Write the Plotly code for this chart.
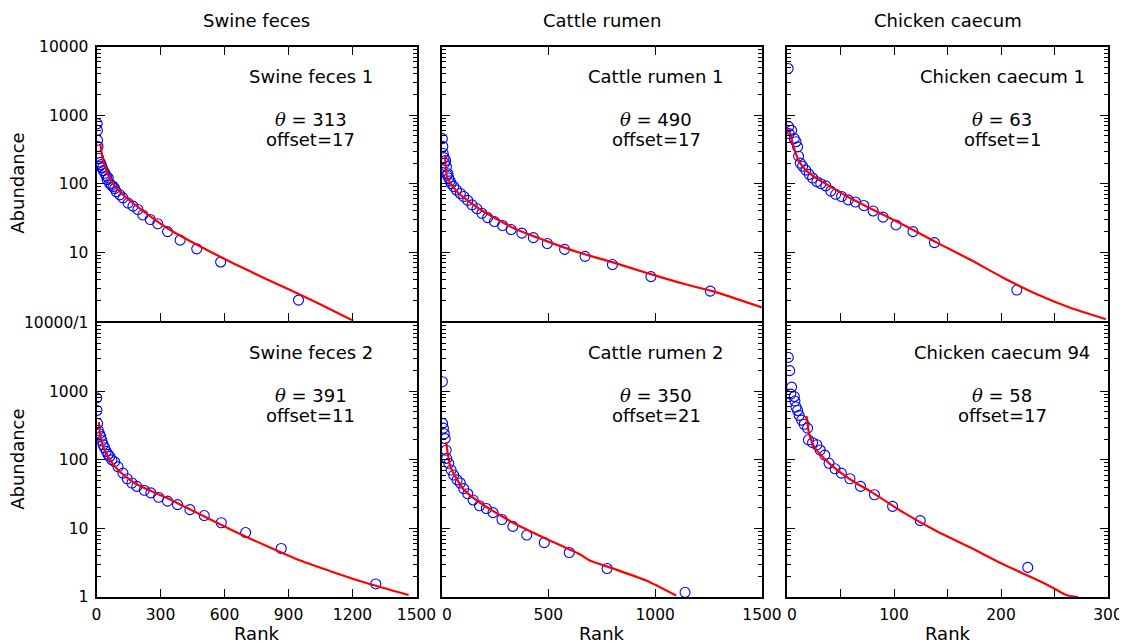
import plotly.graph_objects as go

# ---------------- data ----------------
col_titles = ["Swine feces", "Cattle rumen", "Chicken caecum"]
panel_names = ["Swine feces 1", "Cattle rumen 1", "Chicken caecum 1",
               "Swine feces 2", "Cattle rumen 2", "Chicken caecum 94"]
thetas = [313, 490, 63, 391, 350, 58]
offsets = [17, 17, 1, 11, 21, 17]

# Swine feces 1
sf1_rank = [3, 4, 5, 7, 10, 14, 18, 22, 27, 32, 39, 46, 50, 55, 62, 70, 78, 85, 93, 109, 124, 148, 171, 194, 217, 252, 287, 333, 392, 470, 582, 947]
sf1_abund = [750, 600, 430, 350, 235, 180, 205, 190, 170, 155, 142, 130, 115, 121, 100, 95, 91, 85, 76, 69, 62, 52, 47, 42, 35, 30, 26, 20, 15, 11.2, 7.2, 2.0]
sf1_fit_rank = [18, 28, 46, 77, 124, 210, 333, 489, 645, 800, 955, 1100, 1203]
sf1_fit_abund = [385, 245, 158, 100, 69, 42, 22.4, 12.0, 6.8, 4.0, 2.4, 1.45, 1.0]

# Cattle rumen 1
cr1_rank = [4, 6, 8, 12, 15, 19, 23, 26, 30, 34, 40, 45, 57, 70, 88, 104, 123, 143, 166, 189, 216, 248, 286, 326, 376, 430, 495, 576, 672, 800, 980, 1258]
cr1_abund = [455, 350, 276, 240, 200, 218, 178, 134, 140, 121, 110, 100, 91, 81, 72, 65, 57, 49, 43, 37, 32, 28, 24.5, 21.4, 19, 16.3, 13.4, 11, 8.7, 6.6, 4.4, 2.7]
cr1_fit_rank = [17, 26, 73, 182, 337, 492, 647, 803, 958, 1113, 1191, 1268, 1500]
cr1_fit_abund = [260, 126, 76, 42, 22.5, 14.5, 9.8, 7.1, 5.0, 3.6, 3.1, 2.7, 1.56]

# Chicken caecum 1
cc1_rank = [1, 1.5, 2, 4.3, 6.8, 8.4, 9.9, 10.8, 12.4, 14.6, 17.6, 20.7, 23.9, 27.9, 31.6, 36.2, 40.9, 45.5, 51, 57.3, 64, 71.8, 80.5, 89.8, 101.9, 117.7, 137.8, 214.8]
cc1_abund = [4800, 680, 540, 600, 455, 410, 345, 252, 200, 180, 158, 137, 121, 107, 100, 93, 78, 70, 65, 58, 54, 48, 40, 32.5, 25, 20, 13.8, 2.8]
cc1_fit_rank = [2, 5.3, 9.9, 16, 25.4, 37.8, 56.4, 78, 109, 140, 171, 202, 233, 264, 298]
cc1_fit_abund = [630, 390, 235, 167, 126, 96, 65, 43.6, 25, 13.8, 7.8, 4.25, 2.45, 1.56, 1.05]

# Swine feces 2
sf2_rank = [1, 2, 5, 8, 14, 20, 25, 31, 38, 46, 54, 62, 72, 85, 101, 124, 144, 166, 189, 224, 255, 291, 333, 380, 438, 505, 585, 699, 866, 1309]
sf2_abund = [800, 525, 340, 270, 240, 218, 190, 166, 150, 133, 120, 112, 100, 94, 79, 64, 53, 46, 41, 36, 33, 28.5, 25, 22.2, 18.8, 15.4, 12.1, 8.7, 5.1, 1.55]
sf2_fit_rank = [11, 21, 54, 101, 178, 333, 489, 645, 800, 955, 1110, 1265, 1463]
sf2_fit_abund = [355, 195, 112, 71, 46, 27.5, 15.8, 9.1, 5.5, 3.4, 2.3, 1.6, 1.07]

# Cattle rumen 2
cr2_rank = [4, 5, 9, 13, 17, 22, 24, 34, 45, 57, 73, 88, 104, 123, 148, 178, 210, 241, 283, 334, 399, 481, 598, 775, 1140]
cr2_abund = [1380, 340, 290, 240, 204, 138, 105, 89, 71, 60, 51, 46, 38, 32, 26, 21.4, 19.5, 17, 13.5, 10.7, 8.0, 6.2, 4.45, 2.6, 1.17]
cr2_fit_rank = [22, 42, 104, 182, 337, 492, 647, 694, 803, 958, 1098]
cr2_fit_abund = [182, 79, 37, 23.5, 12, 7, 4.2, 3.4, 2.6, 1.74, 1.05]

# Chicken caecum 94
cc94_rank = [1.2, 2.5, 4.3, 3.5, 6.8, 7.4, 8.4, 9.9, 11.4, 13.6, 16, 19.2, 20, 23.9, 27.9, 31, 35.3, 39.3, 44.9, 50.8, 58.8, 68.7, 81.7, 98.7, 124.5, 225]
cc94_abund = [3120, 2000, 1150, 910, 840, 720, 590, 525, 445, 380, 330, 290, 196, 178, 166, 139, 117, 89, 74, 64, 53, 41, 31, 21, 13, 2.7]
cc94_fit_rank = [18.3, 20.7, 25.4, 34.7, 47, 62.5, 78, 109, 140, 171, 202, 233, 248, 261, 272]
cc94_fit_abund = [435, 240, 155, 105, 71, 48, 34.7, 17, 9.1, 5.3, 3.0, 1.8, 1.38, 1.07, 1.0]

points = [(sf1_rank, sf1_abund), (cr1_rank, cr1_abund), (cc1_rank, cc1_abund),
          (sf2_rank, sf2_abund), (cr2_rank, cr2_abund), (cc94_rank, cc94_abund)]
fits = [(sf1_fit_rank, sf1_fit_abund), (cr1_fit_rank, cr1_fit_abund), (cc1_fit_rank, cc1_fit_abund),
        (sf2_fit_rank, sf2_fit_abund), (cr2_fit_rank, cr2_fit_abund), (cc94_fit_rank, cc94_fit_abund)]

x_ranges = [[0, 1500], [0, 1500], [0, 300]]
x_tickvals = [[0, 300, 600, 900, 1200, 1500], [0, 500, 1000, 1500], [0, 50, 100, 150, 200, 250, 300]]
x_ticktext = [["0", "300", "600", "900", "1200", "1500"],
              ["", "500", "1000", "1500"],
              ["", "", "100", "", "200", "", "300"]]
y_major = [1, 10, 100, 1000, 10000]
y_minor = [m * 10 ** e for e in range(4) for m in range(2, 10)]

# ---------------- layout geometry ----------------
OFF = 8  # the page body margin shifts the figure by 8 px
W, H = 1127 - OFF, 643 - OFF
FONT = "DejaVu Sans"
LW = 2
# plot-area edges in page pixels (axis lines are drawn just outside them)
col_px = [(96.5, 416.5), (441.5, 762.0), (787.0, 1108.0)]
row_px = [(46.7, 320.7), (322.7, 597.0)]


def fx_(p):
    return (p - OFF) / W


def fy_(p):
    return (H - (p - OFF)) / H


fig = go.Figure()
layout = dict(width=W, height=H, margin=dict(l=0, r=0, t=0, b=0, autoexpand=False),
              paper_bgcolor="white", plot_bgcolor="white", showlegend=False,
              font=dict(family=FONT, size=15.5, color="black"))
annotations = []

for i in range(6):
    r, c = divmod(i, 3)
    n = i + 1
    xa = "x" if n == 1 else f"x{n}"
    ya = "y" if n == 1 else f"y{n}"
    px, py = points[i]
    fx, fy = fits[i]
    fig.add_trace(go.Scatter(x=px, y=py, mode="markers", xaxis=xa, yaxis=ya,
                             marker=dict(symbol="circle-open", size=10, color="#0000ff",
                                         line=dict(width=1.1, color="#0000ff"))))
    fig.add_trace(go.Scatter(x=fx, y=fy, mode="lines", xaxis=xa, yaxis=ya,
                             line=dict(color="#ff0000", width=2.2, shape="spline", smoothing=0.6)))

    x0, x1 = col_px[c]
    y0, y1 = row_px[r]
    xdom = [fx_(x0), fx_(x1)]
    ydom = [fy_(y1), fy_(y0)]
    xkey = "xaxis" if n == 1 else f"xaxis{n}"
    ykey = "yaxis" if n == 1 else f"yaxis{n}"
    layout[xkey] = dict(domain=xdom, anchor=ya, range=x_ranges[c], automargin=False,
                        tickmode="array", tickvals=x_tickvals[c], ticktext=x_ticktext[c],
                        showticklabels=(r == 1), ticks="inside", ticklen=8, tickwidth=1,
                        tickcolor="black", showline=True, linewidth=LW, linecolor="black",
                        mirror=("ticks" if r == 0 else True), showgrid=False, zeroline=False,
                        ticklabelstandoff=2, tickfont=dict(family=FONT, size=15.5))
    if r == 0:
        ytext = ["", "10", "100", "1000", "10000"]
    else:
        ytext = ["1", "10", "100", "1000", "10000/1"]
    layout[ykey] = dict(domain=ydom, anchor=xa, type="log", range=[0, 4], automargin=False,
                        tickmode="array", tickvals=y_major, ticktext=ytext,
                        showticklabels=(c == 0), ticks="inside", ticklen=8, tickwidth=1,
                        tickcolor="black", showline=True, linewidth=LW, linecolor="black",
                        mirror="ticks", showgrid=False, zeroline=False, ticklabelstandoff=3,
                        minor=dict(tickmode="array", tickvals=y_minor, ticks="inside",
                                   ticklen=4, tickwidth=1, tickcolor="black", showgrid=False),
                        tickfont=dict(family=FONT, size=15.5))

    xd = "x domain" if n == 1 else f"x{n} domain"
    yd = "y domain" if n == 1 else f"y{n} domain"
    ph = y1 - y0
    for txt, dy in [(panel_names[i], 29.5),
                    (f"<span style='font-family:DejaVu Serif'><i>θ</i></span> = {thetas[i]}", 72.5),
                    (f"offset={offsets[i]}", 92.5)]:
        annotations.append(dict(text=txt, xref=xd, yref=yd, x=0.67, y=1 - dy / ph,
                                xanchor="center", yanchor="middle", showarrow=False,
                                font=dict(family=FONT, size=18, color="black")))
    # zero tick label of the middle/right columns, nudged right as in the reference
    if r == 1 and c > 0:
        annotations.append(dict(text="0", xref=xa, yref=yd, x=0, y=0, yshift=-18,
                                xshift=5, xanchor="center", yanchor="middle", showarrow=False,
                                font=dict(family=FONT, size=15.5, color="black")))

for c in range(3):
    x0, x1 = col_px[c]
    annotations.append(dict(text=col_titles[c], xref="paper", yref="paper",
                            x=fx_((x0 + x1) / 2), y=fy_(20), xanchor="center", yanchor="middle",
                            showarrow=False, font=dict(family=FONT, size=18, color="black")))
    annotations.append(dict(text="Rank", xref="paper", yref="paper",
                            x=fx_((x0 + x1) / 2), y=fy_(633), xanchor="center", yanchor="middle",
                            showarrow=False, font=dict(family=FONT, size=18, color="black")))
for r in range(2):
    y0, y1 = row_px[r]
    annotations.append(dict(text="Abundance", xref="paper", yref="paper", textangle=-90,
                            x=fx_(18), y=fy_((y0 + y1) / 2), xanchor="center", yanchor="middle",
                            showarrow=False, font=dict(family=FONT, size=18, color="black")))

layout["annotations"] = annotations
fig.update_layout(**layout)
fig.write_html("out.html")
